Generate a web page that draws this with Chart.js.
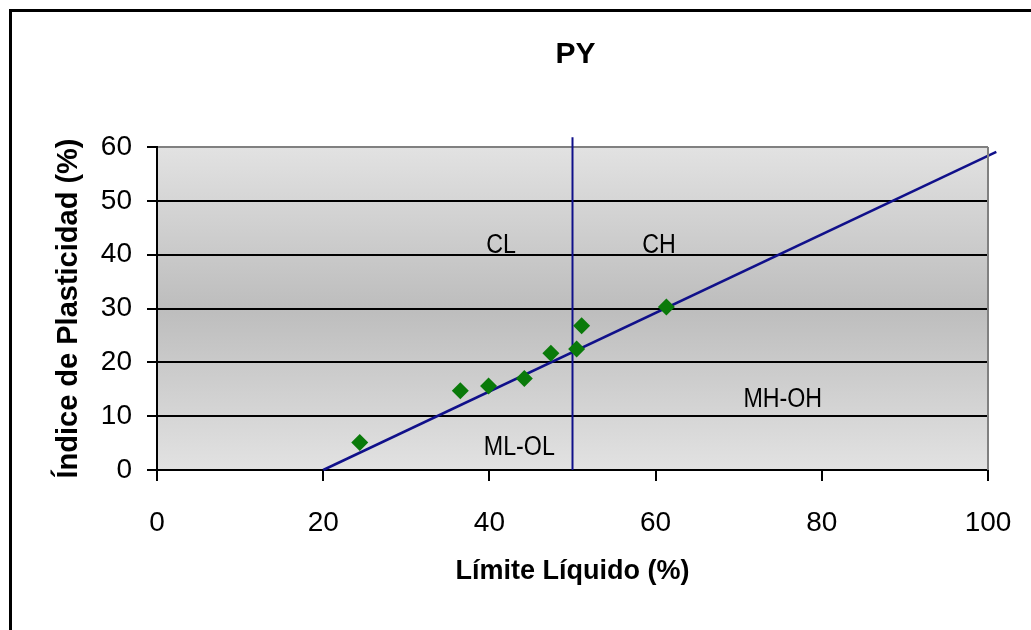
<!DOCTYPE html>
<html>
<head>
<meta charset="utf-8">
<script src="https://cdn.jsdelivr.net/npm/chart.js@4/dist/chart.umd.min.js"></script>
<style>
  html, body { margin: 0; padding: 0; background: #fff; overflow: hidden; }
  canvas { display: block; }
</style>
</head>
<body>
<canvas id="c" width="1031" height="630"></canvas>
<script>
// ---- data ----
const chartTitle = 'PY';
const xAxisTitle = 'Límite Líquido (%)';
const yAxisTitle = 'Índice de Plasticidad (%)';
const sampleLL = [24.4, 36.5, 39.9, 44.2, 47.4, 50.5, 51.1, 61.3];
const samplePI = [5.1, 14.7, 15.6, 17.0, 21.7, 22.5, 26.8, 30.3];
const aLineLL = [20, 101];
const aLinePI = [0, 59.1];
const bLineLL = [50, 50];
const bLinePI = [0, 61.8];
const zoneNames = ['CL', 'CH', 'MH-OH', 'ML-OL'];
const zoneLL = [41.4, 60.4, 75.3, 43.6];
const zonePI = [42.2, 42.2, 13.6, 4.6];
const xTickValues = [0, 20, 40, 60, 80, 100];
const yTickValues = [0, 10, 20, 30, 40, 50, 60];

const toPts = (xs, ys) => xs.map((x, i) => ({ x: x, y: ys[i] }));
const FONT = '"Liberation Sans", Arial, Helvetica, sans-serif';

const decorPlugin = {
  id: 'decor',
  beforeDraw(chart) {
    const { ctx, chartArea: a } = chart;
    ctx.save();
    const g = ctx.createLinearGradient(0, a.top, 0, a.bottom);
    g.addColorStop(0, '#e2e2e2');
    g.addColorStop(0.5, '#bdbdbd');
    g.addColorStop(1, '#e2e2e2');
    ctx.fillStyle = g;
    ctx.fillRect(a.left, a.top, a.right - a.left, a.bottom - a.top);
    // outer chart border
    ctx.strokeStyle = '#000';
    ctx.lineWidth = 3;
    ctx.beginPath();
    ctx.moveTo(10.5, 640);
    ctx.lineTo(10.5, 10.5);
    ctx.lineTo(1040, 10.5);
    ctx.stroke();
    ctx.restore();
  },
  afterDatasetsDraw(chart) {
    const { ctx, chartArea: a, scales } = chart;
    ctx.save();
    // right border of plot area
    ctx.strokeStyle = '#808080';
    ctx.lineWidth = 2;
    ctx.beginPath();
    ctx.moveTo(a.right, a.top);
    ctx.lineTo(a.right, a.bottom);
    ctx.stroke();
    // title
    ctx.fillStyle = '#000';
    ctx.font = 'bold 30px ' + FONT;
    ctx.textAlign = 'center';
    ctx.textBaseline = 'alphabetic';
    ctx.fillText(chartTitle, (a.left + a.right) / 2 + 3, 63);
    // zone labels
    ctx.font = '27px ' + FONT;
    zoneNames.forEach((n, i) => {
      const px = scales.x.getPixelForValue(zoneLL[i]);
      const py = scales.y.getPixelForValue(zonePI[i]);
      ctx.save();
      ctx.translate(px, py + 10);
      ctx.scale(0.86, 1);
      ctx.fillText(n, 0, 0);
      ctx.restore();
    });
    ctx.restore();
  }
};

new Chart(document.getElementById('c'), {
  type: 'scatter',
  data: {
    datasets: [
      { label: 'A-line', data: toPts(aLineLL, aLinePI), showLine: true, borderColor: '#10108a', borderWidth: 2.5, pointRadius: 0, clip: false, order: 2 },
      { label: 'B-line', data: toPts(bLineLL, bLinePI), showLine: true, borderColor: '#10108a', borderWidth: 2, pointRadius: 0, clip: false, order: 2 },
      { label: 'Muestras', data: toPts(sampleLL, samplePI), pointStyle: 'rectRot', pointRadius: 8.5, backgroundColor: '#0a7a0a', borderColor: '#0a7a0a', borderWidth: 0, order: 1 }
    ]
  },
  options: {
    responsive: false,
    animation: false,
    devicePixelRatio: 1,
    layout: { padding: { top: 147, right: 43, bottom: 0, left: 0 } },
    plugins: { legend: { display: false }, tooltip: { enabled: false }, title: { display: false } },
    scales: {
      x: {
        type: 'linear', min: 0, max: 100,
        afterBuildTicks: s => { s.ticks = xTickValues.map(v => ({ value: v })); },
        afterFit: s => { s.height = 160; s.paddingLeft = 0; s.paddingRight = 0; },
        ticks: { font: { family: FONT, size: 28 }, color: '#000', padding: 25 },
        grid: { drawOnChartArea: false, drawTicks: true, tickLength: 11, tickColor: '#000', tickWidth: 2, color: '#000', lineWidth: 2 },
        border: { color: '#000', width: 2 },
        title: { display: true, text: xAxisTitle, color: '#000', font: { family: FONT, size: 27, weight: 'bold' }, padding: { top: 0, bottom: 42 } }
      },
      y: {
        type: 'linear', min: 0, max: 60,
        afterBuildTicks: s => { s.ticks = yTickValues.map(v => ({ value: v })); },
        afterFit: s => { s.width = 157; },
        ticks: { font: { family: FONT, size: 28 }, color: '#000', padding: 15 },
        grid: { color: c => (c.tick && c.tick.value === 60) ? '#808080' : '#000', lineWidth: 2, tickLength: 10, tickColor: '#000', tickWidth: 2 },
        border: { color: '#000', width: 2 },
        title: { display: true, text: yAxisTitle, color: '#000', font: { family: FONT, size: 29, weight: 'bold' }, padding: { top: 52, bottom: 0 } }
      }
    }
  },
  plugins: [decorPlugin]
});
</script>
</body>
</html>
